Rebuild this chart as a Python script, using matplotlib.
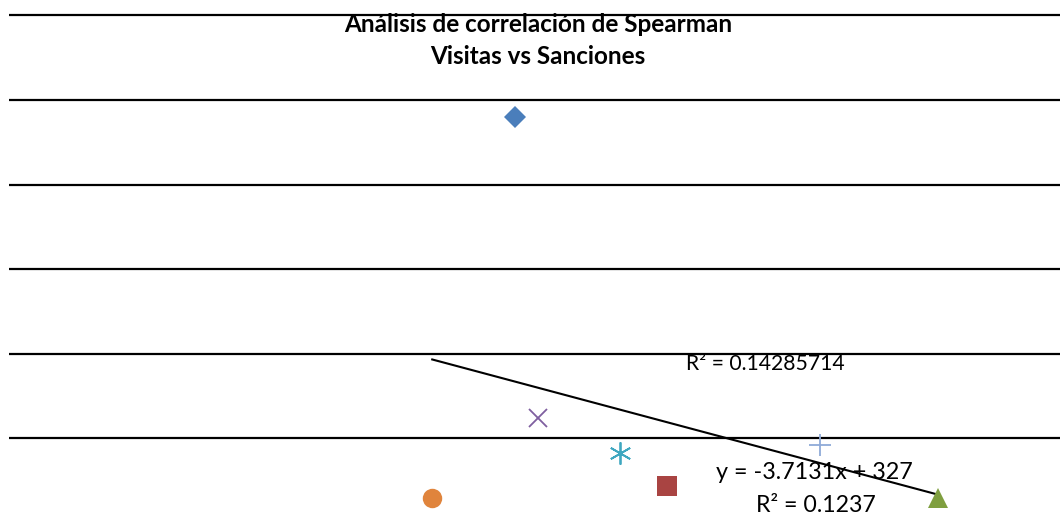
import matplotlib
matplotlib.use('Agg')
import matplotlib.pyplot as plt
import numpy as np

# Visitas (x) and Sanciones (y), one marker style per point
visitas = [43, 36, 56, 79, 45, 52, 69]
sanciones = [480, 30, 44, 30, 124, 83, 92]
markers = ['D', 'o', 's', '^', 'x', (6, 2, 0), '+']
colors = ['#4A7EBB', '#E0843C', '#A94442', '#7F9F3F', '#7F5FA0', '#3FA7C0', '#8FAAD8']
sizes = [11, 14, 14, 14, 13, 16, 16]

# Linear trendline shown in the chart
slope, intercept = -3.7131, 327
r2_text = 'R² = 0.1237'
r2_extra = 'R² = 0.14285714'

plt.rcParams['font.family'] = ['Lato', 'DejaVu Sans']

fig = plt.figure(figsize=(10.6, 5.21), dpi=100)
ax = fig.add_axes([9 / 1060, 0, 1051 / 1060, 1])

# Gridlines
ax.set_yticks([100, 200, 300, 400, 500, 600])
ax.yaxis.grid(True, color='black', lw=1.6)
ax.set_axisbelow(True)

for xv, yv, m, c, s in zip(visitas, sanciones, markers, colors, sizes):
    lw = 1.3 if m in ('x', '+', (6, 2, 0)) else 0
    ax.plot(xv, yv, marker=m, color=c, ms=s, mew=lw, ls='none', zorder=3)

xt = np.array([min(visitas), max(visitas)])
ax.plot(xt, slope * xt + intercept, color='black', lw=1.5, zorder=2)

ax.text(64.3, 188, r2_extra, fontsize=15.2, ha='center', va='center', zorder=4)
ax.text(68.5, 60, 'y = -3.7131x + 327', fontsize=16.8, ha='center', va='center', zorder=4)
ax.text(68.6, 21, r2_text, fontsize=16.7, ha='center', va='center', zorder=4)

fig.text(538 / 1060, 1 - 24 / 521, 'Análisis de correlación de Spearman',
         fontsize=17.5, fontweight='bold', ha='center', va='center')
fig.text(538 / 1060, 1 - 57 / 521, 'Visitas vs Sanciones',
         fontsize=17.5, fontweight='bold', ha='center', va='center')

ax.set_xlim(0, 89.4)
ax.set_ylim(2.4, 618.2)
for sp in ax.spines.values():
    sp.set_visible(False)
ax.tick_params(left=False, bottom=False, labelleft=False, labelbottom=False)

fig.savefig('out.png', dpi=100)
